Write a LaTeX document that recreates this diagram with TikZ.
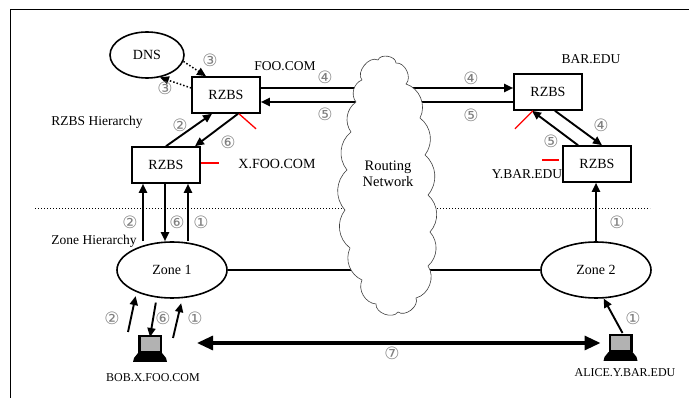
\documentclass[tikz,border=0pt]{standalone}
\usepackage{fontspec}
\setmainfont{Liberation Serif}
\newfontfamily\circfont{DejaVu Sans}
\usetikzlibrary{arrows.meta}
\usetikzlibrary{shapes.geometric}

\tikzset{
  rzbs/.style={draw,line width=1.6pt,minimum width=68pt,minimum height=36pt,inner sep=0pt,font=\fontsize{14}{16}\selectfont},
  zone/.style={draw,ellipse,line width=1.6pt,minimum width=110pt,minimum height=56pt,inner sep=0pt,font=\fontsize{14}{16}\selectfont},
  num/.style={text=black!50,inner sep=0pt,font=\circfont\fontsize{17}{17}\selectfont},
  lbl/.style={inner sep=0pt,font=\fontsize{13.5}{15}\selectfont},
  host/.style={inner sep=0pt,font=\fontsize{12}{14}\selectfont},
  tip/.style={-{Triangle[length=9pt,width=8pt]}},
  flow/.style={tip,line width=1.9pt},
  dnsflow/.style={tip,line width=1.5pt,dotted},
  redtick/.style={red,line width=1.3pt},
  puff/.style={bend left=#1},
  pics/laptop/.style={code={
    \fill (-12,-18) rectangle (12,0);
    \fill[black!30] (-9.5,-15.5) rectangle (9.5,-2);
    \fill (-12,0) -- (12,0) -- (16,5) -- (17,9) -- (-17,9) -- (-16,5) -- cycle;
  }},
}

\begin{document}
\begin{tikzpicture}[x=1pt,y=-1pt]
\useasboundingbox (0,0) rectangle (689,398);
\draw[line width=1pt] (10,398) -- (10,10) -- (689,10);
\draw[dotted,line width=1pt] (35,209) -- (650,209);

\node[draw,ellipse,line width=1.6pt,minimum width=74pt,minimum height=46pt,font=\fontsize{14}{16}\selectfont] (dns) at (147,55) {DNS};
\node[rzbs] (foo) at (226,95) {RZBS};
\node[rzbs] (xfoo) at (166,165) {RZBS};
\node[rzbs] (bar) at (548,92) {RZBS};
\node[rzbs] (ybar) at (597,164) {RZBS};
\node[zone] (z1) at (172,270) {Zone 1};
\node[zone] (z2) at (596,270) {Zone 2};
\coordinate (bob) at (150,353);
\coordinate (alice) at (620.5,352);
\pic at (bob) {laptop};
\pic at (alice) {laptop};

% these pass behind the cloud
\draw[flow] ([yshift=7pt]foo.east) -- ([yshift=4pt]bar.west);
\draw[flow] ([yshift=-10pt]bar.west) -- ([yshift=-7pt]foo.east);
\draw[line width=2pt] (z1.east) -- (z2.west);

% routing network cloud
\draw[draw=black!75,fill=white,line width=0.6pt]
  (362,80) to[puff=80] (378,60) to[puff=80] (396,63) to[puff=70] (406,84)
  to[puff=50] (420,118) to[puff=45] (425,155) to[puff=45] (428,195)
  to[puff=45] (430,232) to[puff=45] (428,266) to[puff=55] (416,298)
  to[puff=75] (398,312) to[puff=75] (376,304) to[puff=55] (362,280)
  to[puff=45] (350,248) to[puff=45] (345,210) to[puff=45] (347,170)
  to[puff=45] (351,132) to[puff=45] (356,102) to[puff=55] (362,80);
\node[align=center,inner sep=0pt,font=\fontsize{14.5}{16}\selectfont] (net) at (388,174) {Routing\\Network};

\draw[dnsflow] (dns.-10) -- ([xshift=-20pt]foo.north);
\draw[dnsflow] ([yshift=7pt]foo.west) -- (dns.-60);

\draw[flow] (xfoo.north) -- ([xshift=-14pt]foo.south);
\draw[flow] ([xshift=12pt]foo.south) -- ([xshift=29pt]xfoo.north);
\draw[flow] ([xshift=7pt]bar.south) -- ([xshift=5pt]ybar.north);
\draw[flow] ([xshift=-19pt]ybar.north) -- ([xshift=-16pt]bar.south);

\draw[redtick] ([xshift=13pt]foo.south) -- ++(17,15);
\draw[redtick] ([yshift=2pt]xfoo.east) -- ++(18,0);
\draw[redtick] ([xshift=-15pt]bar.south) -- ++(-18,18);
\draw[redtick] ([xshift=-3pt,yshift=4pt]ybar.west) -- ++(-17,0);

\coordinate (z1top) at (xfoo.south |- z1.north);
\draw[flow] ([xshift=-23pt]z1top) -- ([xshift=-23pt]xfoo.south);
\draw[flow] ([xshift=-1pt]xfoo.south) -- ([xshift=-1pt]z1top);
\draw[flow] ([xshift=22pt]z1top) -- ([xshift=22pt]xfoo.south);
\draw[flow] (z2.north) -- (z2.north |- ybar.south);

\draw[flow,shorten >=4pt] ([shift={(-22,-21)}]bob) -- (z1.212);
\draw[flow,shorten <=5pt] (z1.241) -- ([yshift=16pt]bob);
\draw[flow,shorten >=5pt] ([shift={(23,-15)}]bob) -- (z1.-70);
\draw[flow] ([shift={(2,-19)}]alice) -- (z2.-75);
\draw[line width=3.2pt,{Triangle[length=16pt,width=14pt]}-{Triangle[length=16pt,width=14pt]}]
  ([shift={(47,-10)}]bob) -- ([shift={(-20,-9)}]alice);

\foreach \x/\y/\t [count=\i] in {210/60/③, 165/88/③, 325/77/④, 325/114/⑤, 471/78/④, 471/115/⑤,
    180/125/②, 228/142/⑥, 601/125/④, 551/141/⑤, 130/222/②, 177/222/⑥, 201/222/①, 617/222/①,
    112/318/②, 163/318/⑥, 195/318/①, 633/318/①, 392/353/⑦}
  \node[num] (step\i) at (\x,\y) {\t};

\node[lbl] (foolbl) at (285,66) {FOO.COM};
\node[lbl] (barlbl) at (591,59) {BAR.EDU};
\node[lbl] (rzbslbl) at (97,122) {RZBS Hierarchy};
\node[lbl,font=\fontsize{14}{16}\selectfont] (xfoolbl) at (277,164) {X.FOO.COM};
\node[lbl] (ybarlbl) at (527,174) {Y.BAR.EDU};
\node[lbl] (zonelbl) at (94,241) {Zone Hierarchy};
\node[host] (boblbl) at (153,378) {BOB.X.FOO.COM};
\node[host] (alicelbl) at (625,373) {ALICE.Y.BAR.EDU};
\end{tikzpicture}
\end{document}
